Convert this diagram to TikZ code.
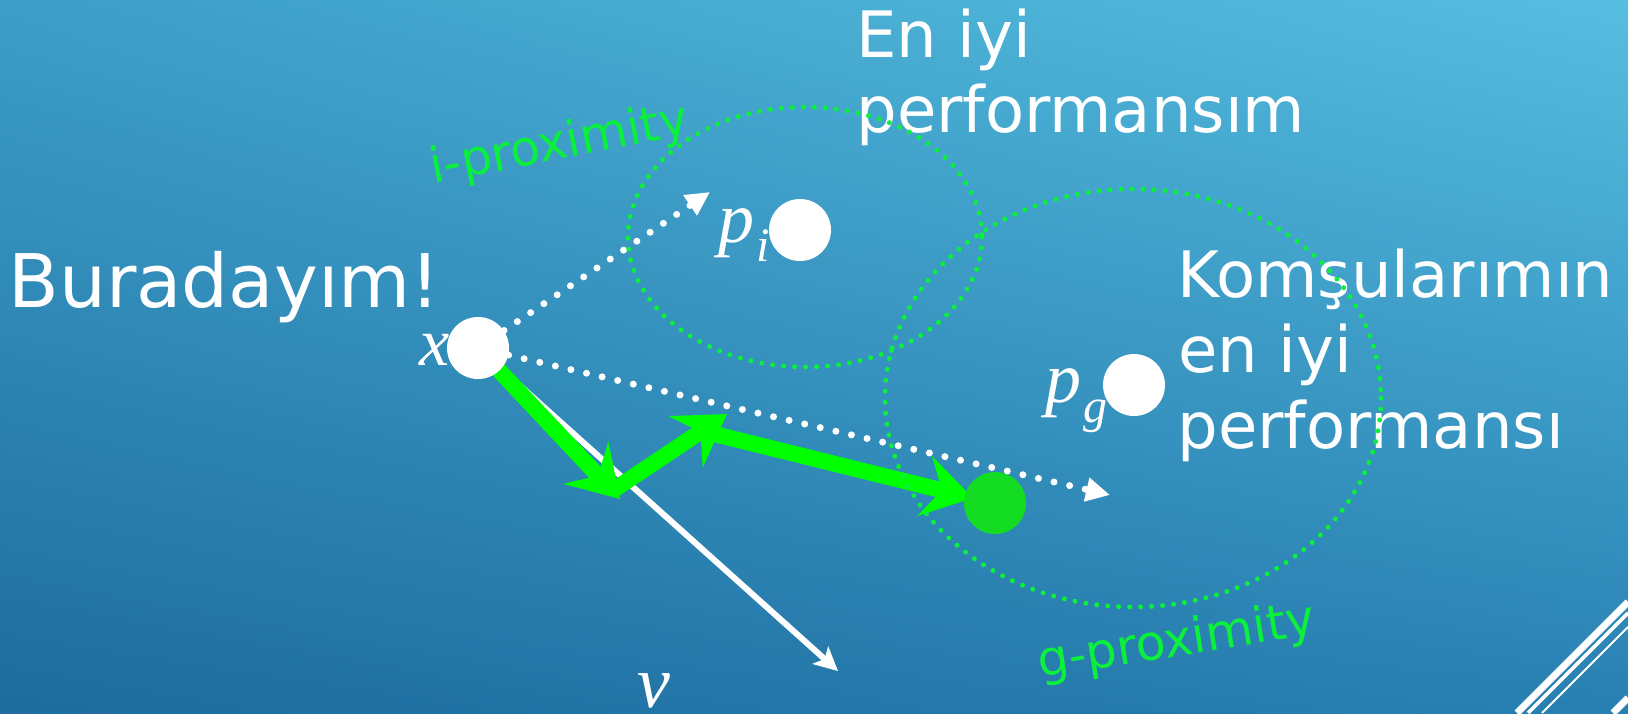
\documentclass[tikz,border=0pt]{standalone}
\usepackage{fontspec}
\setmainfont{DejaVu Sans}
\newfontfamily\serfont{Liberation Serif}
\usetikzlibrary{arrows.meta,shadings}
\definecolor{bgUL}{RGB}{60,158,200}
\definecolor{bgUR}{RGB}{86,190,224}
\definecolor{bgLL}{RGB}{30,108,158}
\definecolor{bgLR}{RGB}{40,128,178}
\definecolor{proxgreen}{RGB}{10,240,60}
\definecolor{arrowgreen}{RGB}{0,255,0}
\definecolor{ballgreen}{RGB}{20,220,35}
\pgfdeclarelayer{bgl}
\pgfdeclarelayer{midl}
\pgfsetlayers{bgl,midl,main}
\tikzset{
  wdots/.style={white, line width=3.5pt, line cap=round, dash pattern=on 0pt off 8pt,
    -{Triangle[length=12pt,width=11.5pt]}},
  gdots/.style={proxgreen, line width=2.5pt, line cap=round, dash pattern=on 0pt off 5.5pt},
  garrow/.style={arrowgreen, line width=8pt,
    -{Stealth[length=25pt,width=31pt,inset=9pt,line width=0pt]}},
  warrow/.style={white, line width=3pt,
    -{Stealth[length=12pt,width=12pt,inset=3pt,line width=0pt]}},
  dotnode/.style={circle, fill=white, minimum size=31pt, inner sep=0pt},
  bigtext/.style={text=white, font=\fontsize{32}{38}\selectfont, anchor=base west, inner sep=0pt},
  proxtext/.style={text=proxgreen, font=\fontsize{24.5}{28}\selectfont, anchor=base west, inner sep=0pt},
  mathlbl/.style={text=white, font=\serfont\itshape\fontsize{36}{40}\selectfont, anchor=base west, inner sep=0pt},
  deco/.style={white, line cap=butt}
}
\begin{document}
\begin{tikzpicture}[x=0.5pt,y=-0.5pt]
\useasboundingbox (0,0) rectangle (1628,713);
\begin{pgfonlayer}{bgl}
  \shade[upper left=bgUL, upper right=bgUR, lower left=bgLL, lower right=bgLR] (0,0) rectangle (1628,713);
  \begin{scope}
    \clip (0,0) rectangle (1628,713);
    \draw[deco, line width=3.5pt] (1517,713) -- (1628,602);
    \draw[deco, line width=1.8pt] (1528,713) -- (1628,613);
    \draw[deco, line width=1pt] (1542,713) -- (1628,627);
    \draw[deco, line width=3.5pt] (1613,713) -- (1628,698);
  \end{scope}
\end{pgfonlayer}

% texts
\node[bigtext, font=\fontsize{37}{42}\selectfont] (bur) at (8,307) {Buradayım!};
\node[bigtext] (en1) at (856,57) {En iyi};
\node[bigtext] (en2) at (856,132) {performansım};
\node[bigtext] (k1) at (1177,297) {Komşularımın};
\node[bigtext] (k2) at (1178,372) {en iyi};
\node[bigtext] (k3) at (1177,448) {performansı};
\node[proxtext, rotate=11] (ip) at (433,184) {i-proximity};
\node[proxtext, rotate=9] (gp) at (1040,678) {g-proximity};

\node[mathlbl, font=\serfont\itshape\fontsize{34}{38}\selectfont] (xl) at (419,365) {x};
\node[mathlbl] (pil) at (718,242) {p\kern1pt\raisebox{-9.5pt}{\fontsize{24}{24}\selectfont i}};
\node[mathlbl] (pgl) at (1045,402) {p\kern1pt\raisebox{-10pt}{\fontsize{24}{24}\selectfont g}};
\node[mathlbl, font=\serfont\itshape\fontsize{37}{40}\selectfont] (vl) at (637,707) {v};

% proximity ellipses
\draw[gdots] (805,237) ellipse [x radius=177, y radius=130];
\draw[gdots] (1133,398) ellipse [x radius=248, y radius=209];

% particles
\node[dotnode] (xc) at (478,348) {};
\node[dotnode] (pi) at (800,230) {};
\node[dotnode] (pg) at (1134,385) {};
\node[dotnode, fill=ballgreen] (nx) at (995,503) {};

\coordinate (t1) at (710,192);
\coordinate (t2) at (1110,495);
\coordinate (vt) at (838,671);
\coordinate (g1) at (620,499);
\coordinate (g1s) at (612,491);
\coordinate (g2) at (727,414);
\coordinate (g2s) at (710,433);
\coordinate (g3) at (973,498);

\begin{pgfonlayer}{midl}
  \draw[wdots] (xc) -- (t1);
  \draw[wdots] (xc) -- (t2);
  \draw[warrow] (xc.center) -- (vt);
  \draw[garrow] (xc.center) -- (g1);
  \draw[garrow] (g1s) -- (g2);
  \draw[garrow] (g2s) -- (g3);
\end{pgfonlayer}
\end{tikzpicture}
\end{document}
